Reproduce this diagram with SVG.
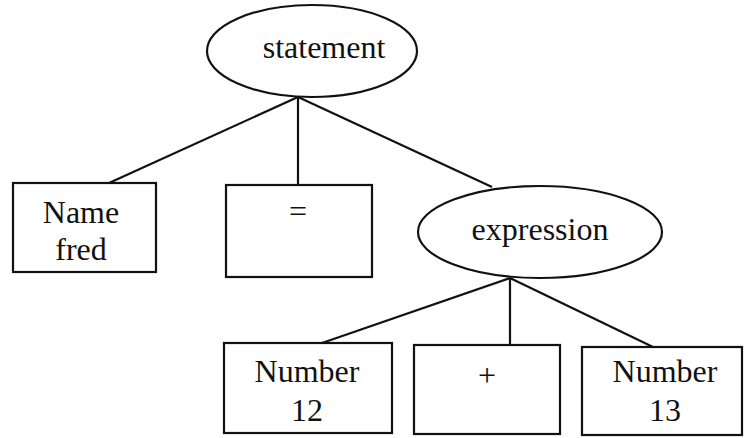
<svg xmlns="http://www.w3.org/2000/svg" width="748" height="438" viewBox="0 0 748 438">
  <style>
    .shape { fill: none; stroke: #111; stroke-width: 2.2; }
    .edge { stroke: #111; stroke-width: 2.2; fill: none; }
    .label { font-family: "Liberation Serif", "Times New Roman", serif; font-size: 32px; fill: #111; text-anchor: middle; }
  </style>
  <rect width="748" height="438" fill="#ffffff"/>

  <!-- parse-tree edges -->
  <g id="connectors">
    <line class="edge" x1="298" y1="97" x2="109" y2="183"/>
    <line class="edge" x1="298" y1="97" x2="298" y2="185"/>
    <line class="edge" x1="298" y1="97" x2="492" y2="187"/>
    <line class="edge" x1="510" y1="278" x2="322" y2="343"/>
    <line class="edge" x1="510" y1="278" x2="510" y2="345"/>
    <line class="edge" x1="510" y1="278" x2="653" y2="347"/>
  </g>

  <g id="statement">
    <ellipse class="shape" cx="312" cy="51" rx="105" ry="46"/>
    <text class="label" x="324" y="58">statement</text>
  </g>

  <g id="name-fred">
    <rect class="shape" x="13" y="183" width="143" height="89"/>
    <text class="label" x="81" y="223">Name</text>
    <text class="label" x="81" y="260">fred</text>
  </g>

  <g id="equals">
    <rect class="shape" x="226" y="185" width="146" height="92"/>
    <text class="label" x="298" y="222">=</text>
  </g>

  <g id="expression">
    <ellipse class="shape" cx="540" cy="232" rx="122" ry="46"/>
    <text class="label" x="540" y="240">expression</text>
  </g>

  <g id="number-12">
    <rect class="shape" x="224" y="343" width="168" height="90"/>
    <text class="label" x="307" y="382">Number</text>
    <text class="label" x="307" y="421">12</text>
  </g>

  <g id="plus">
    <rect class="shape" x="414" y="345" width="146" height="89"/>
    <text class="label" x="487" y="386">+</text>
  </g>

  <g id="number-13">
    <rect class="shape" x="582" y="347" width="160" height="88"/>
    <text class="label" x="665" y="382">Number</text>
    <text class="label" x="665" y="421">13</text>
  </g>
</svg>
